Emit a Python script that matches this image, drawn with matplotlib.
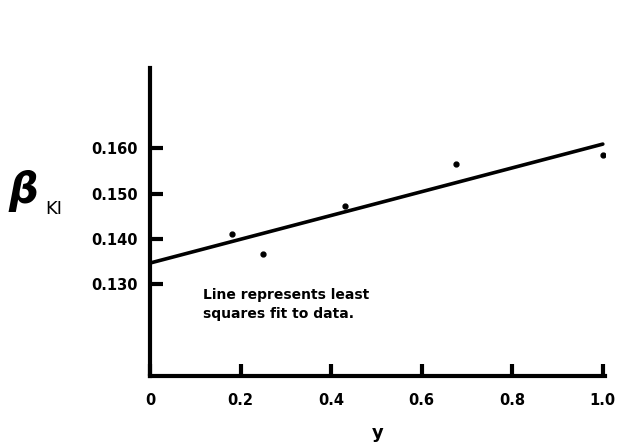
import numpy as np
import matplotlib
matplotlib.use("Agg")
import matplotlib.pyplot as plt

# data
y_frac = [0.18, 0.25, 0.43, 0.675, 1.0]
beta_ki = [0.1410, 0.1367, 0.1472, 0.1565, 0.1585]
xticks = [0, 0.2, 0.4, 0.6, 0.8, 1.0]
xtick_labels = ["0", "0.2", "0.4", "0.6", "0.8", "1.0"]
yticks = [0.130, 0.140, 0.150, 0.160]
ytick_labels = ["0.130", "0.140", "0.150", "0.160"]

# least squares line
slope, icpt = np.polyfit(y_frac, beta_ki, 1)
xl = np.array([0.0, 1.0])

fig = plt.figure(figsize=(6.28, 4.45), dpi=100)
ax = fig.add_axes([0.239, 0.155, 0.7245, 0.692])

ax.plot(xl, icpt + slope * xl, color="black", lw=2.6, solid_capstyle="round")
ax.plot(y_frac, beta_ki, "o", color="black", ms=3.5)

ax.set_xlim(0, 1.005)
ax.set_ylim(0.1096, 0.1778)

for s in ["top", "right"]:
    ax.spines[s].set_visible(False)
for s in ["left", "bottom"]:
    ax.spines[s].set_linewidth(3)

ax.set_xticks(xticks)
ax.set_xticklabels(xtick_labels)
ax.set_yticks(yticks)
ax.set_yticklabels(ytick_labels)
ax.tick_params(direction="in", length=9, width=3, labelsize=10.5, pad=9)
ax.tick_params(axis="x", pad=12)
for t in ax.get_xticklabels() + ax.get_yticklabels():
    t.set_fontweight("bold")

ax.set_xlabel("y", fontsize=13, fontweight="bold", labelpad=12)
fig.text(0.013, 0.571, "β", fontsize=30, ha="left", va="center",
         style="italic", fontweight="bold")
fig.text(0.072, 0.531, "KI", fontsize=13, ha="left", va="center")

ax.text(0.117, 0.1291, "Line represents least\nsquares fit to data.",
        fontsize=10, fontweight="bold", va="top", linespacing=1.45)

fig.savefig("out.png", dpi=100)
